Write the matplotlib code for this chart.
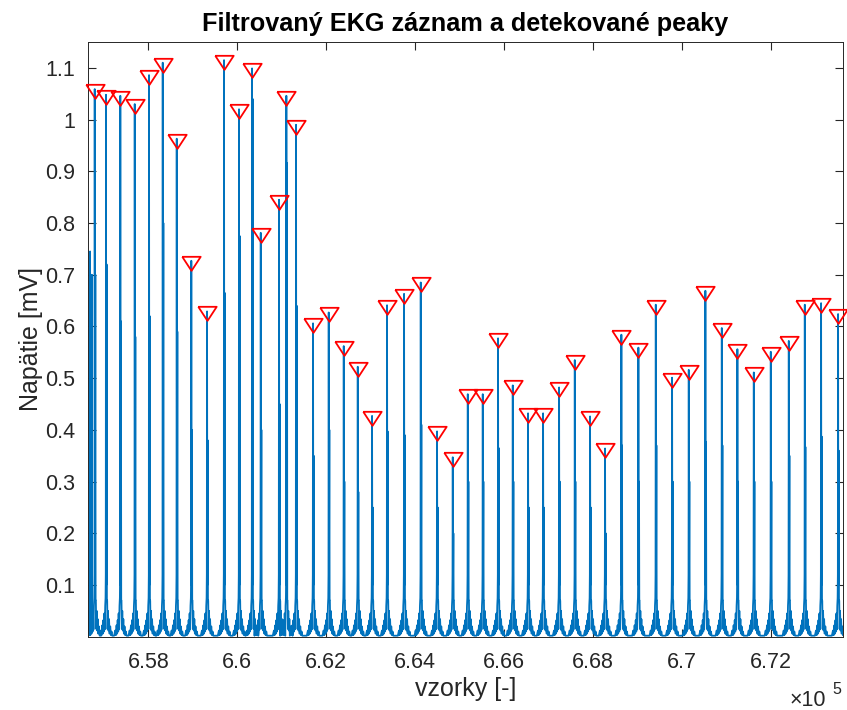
import numpy as np
import matplotlib
matplotlib.use("Agg")
import matplotlib.pyplot as plt
from matplotlib.ticker import FuncFormatter

plt.rcParams['font.family'] = ['Liberation Sans', 'DejaVu Sans']

# detekované R-peaky: poloha [vzorky] a amplitúda [mV]
peak_pos = [656794, 657048, 657370, 657694, 658016, 658324, 658639, 658967, 659321, 659703,
            660040, 660333, 660529, 660940, 661105, 661323, 661705, 662058, 662396, 662711,
            663033, 663370, 663753, 664128, 664495, 664848, 665186, 665523, 665867, 666198,
            666542, 666880, 667240, 667593, 667937, 668274, 668641, 669024, 669415, 669782,
            670157, 670531, 670900, 671251, 671620, 672002, 672407, 672767, 673134, 673516]
peak_val = [1.059, 1.048, 1.046, 1.030, 1.086, 1.110, 0.963, 0.727, 0.629, 1.115,
            1.020, 1.099, 0.781, 0.845, 1.046, 0.990, 0.606, 0.627, 0.562, 0.522,
            0.427, 0.641, 0.663, 0.685, 0.397, 0.347, 0.469, 0.469, 0.577, 0.486,
            0.432, 0.432, 0.482, 0.535, 0.426, 0.364, 0.584, 0.559, 0.642, 0.501,
            0.516, 0.669, 0.597, 0.556, 0.511, 0.551, 0.572, 0.642, 0.645, 0.624]
# vedľajší hrot v QRS komplexe [mV]
sec_val = [0.70, 0.72, 0.61, 0.58, 0.62, 0.80, 0.59, 0.40, 0.38, 0.665,
           0.775, 1.04, 0.40, 0.45, 0.916, 0.64, 0.35, 0.40, 0.30, 0.28,
           0.25, 0.397, 0.39, 0.41, 0.25, 0.20, 0.30, 0.30, 0.365, 0.30,
           0.25, 0.25, 0.30, 0.30, 0.25, 0.20, 0.37, 0.30, 0.37, 0.30,
           0.30, 0.377, 0.37, 0.30, 0.30, 0.30, 0.35, 0.367, 0.387, 0.36]
# neoznačený hrot na začiatku záznamu
extra_pos = [656690]
extra_val = [0.745]

# tvar okolia úderu (posun vo vzorkách, úroveň v mV)
bump_off = [-140, -115, -100, -85, -72, -60, -48, -38, -28, -18, -10, 26, 34, 44, 56, 68, 80, 95, 110, 125, 140]
bump_lvl = [0.002, 0.012, 0.003, 0.022, 0.006, 0.032, 0.010, 0.045, 0.014, 0.060, 0.075,
            0.070, 0.015, 0.050, 0.012, 0.034, 0.006, 0.020, 0.003, 0.010, 0.002]

x_min, x_max = 656643, 673627
y_min, y_max = 0.0, 1.15

# poskladanie signálu z úderov
pts = [(x_min, 0.004), (x_max, 0.004)]
for p, h, s in zip(peak_pos, peak_val, sec_val):
    pts += [(p + o, v) for o, v in zip(bump_off, bump_lvl)]
    pts += [(p - 5, 0.12), (p, h), (p + 6, 0.10), (p + 14, s), (p + 20, 0.07)]
for p, h in zip(extra_pos, extra_val):
    pts += [(p - 20, 0.05), (p - 5, 0.2), (p, h), (p + 6, 0.05), (p + 40, 0.70), (p + 48, 0.04)]
pts.sort(key=lambda t: t[0])
sig_x = np.array([t[0] for t in pts])
sig_y = np.array([t[1] for t in pts])

fig = plt.figure(figsize=(8.47, 7.10), dpi=100)
ax = fig.add_axes([0.1039, 0.1032, 0.8914, 0.8376])

ax.plot(sig_x, sig_y, color='#0072BD', lw=1.3, zorder=2)

tri = [(-0.98, 0.5), (0.98, 0.5), (0.0, -1.0), (-0.98, 0.5)]
ax.plot(peak_pos, peak_val, linestyle='none', marker=tri, markersize=13.5,
        markerfacecolor='none', markeredgecolor='#FF0000', markeredgewidth=1.3,
        clip_on=False, zorder=3)

ax.set_xlim(x_min, x_max)
ax.set_ylim(y_min, y_max)
ax.set_xticks(np.arange(658000, 672001, 2000))
ax.set_yticks(np.arange(1, 12) / 10)
ax.xaxis.set_major_formatter(FuncFormatter(lambda v, _: '%g' % (v / 1e5)))
ax.yaxis.set_major_formatter(FuncFormatter(lambda v, _: '%g' % v))

ax.tick_params(direction='in', length=6, width=0.8, colors='#262626',
               labelsize=15.5, top=True, right=True)
ax.tick_params(axis='x', pad=11)
ax.tick_params(axis='y', pad=9)
for sp in ax.spines.values():
    sp.set_color('#262626')
    sp.set_linewidth(0.7)

ax.set_title('Filtrovaný EKG záznam a detekované peaky', fontsize=18.2,
             fontweight='bold', color='black', pad=8)
ax.set_xlabel('vzorky [-]', fontsize=18, color='#262626', labelpad=3)
ax.set_ylabel('Napätie [mV]', fontsize=18, color='#262626', labelpad=2)

fig.text(790 / 847, 1 - 706 / 710, '×10', fontsize=15.5, color='#262626',
         ha='left', va='baseline')
fig.text(832 / 847, 1 - 694 / 710, '5', fontsize=11.5, color='#262626',
         ha='left', va='baseline')

fig.savefig('out.png', dpi=100, facecolor='white')
